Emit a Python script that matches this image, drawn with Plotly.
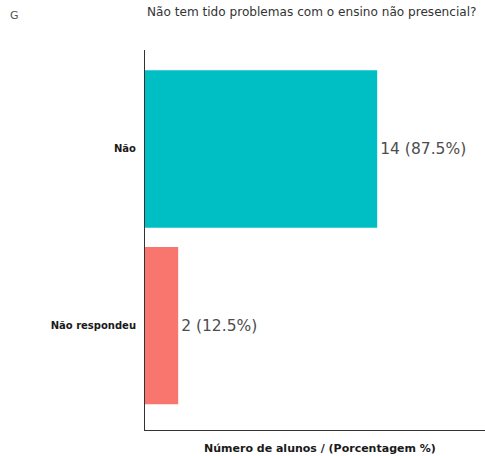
import plotly.graph_objects as go

# Survey answers (bottom to top)
categories = ["Não respondeu", "Não"]
counts = [2, 14]
percents = [12.5, 87.5]
colors = ["#F8766D", "#00BFC4"]

labels = [f"{c} ({p}%)" for c, p in zip(counts, percents)]

FONT = "DejaVu Sans, Arial, sans-serif"

fig = go.Figure(
    go.Bar(
        x=counts,
        y=categories,
        orientation="h",
        marker=dict(color=colors, line=dict(width=0)),
        width=0.89,
        text=labels,
        textposition="outside",
        textfont=dict(family=FONT, size=15.5, color="#4d4d4d"),
        cliponaxis=False,
        hoverinfo="skip",
    )
)

fig.update_layout(
    width=485,
    height=456,
    margin=dict(l=145, r=0, t=50, b=26),
    paper_bgcolor="white",
    plot_bgcolor="white",
    showlegend=False,
    font=dict(family=FONT),
    xaxis=dict(
        range=[0, 20.5],
        showgrid=False,
        zeroline=False,
        showticklabels=False,
        ticks="",
        showline=True,
        linecolor="#333333",
        linewidth=1,
        fixedrange=True,
    ),
    yaxis=dict(
        type="category",
        range=[-0.59, 1.56],
        showgrid=False,
        zeroline=False,
        ticks="",
        showline=True,
        linecolor="#333333",
        linewidth=1,
        tickfont=dict(size=10, color="#1a1a1a", family=FONT, weight="bold"),
        ticklabelstandoff=6,
        fixedrange=True,
    ),
    annotations=[
        dict(
            text="G", x=-137 / 340, y=1 + 34 / 380, xref="paper", yref="paper",
            showarrow=False, xanchor="left", yanchor="middle",
            font=dict(size=11, color="#555555"),
        ),
        dict(
            text="Não tem tido problemas com o ensino não presencial?",
            x=0, y=1, xref="paper", yref="paper", showarrow=False,
            xanchor="left", yanchor="bottom", yshift=29,
            font=dict(size=12.1, color="#333333"),
        ),
        dict(
            text="<b>Número de alunos / (Porcentagem %)</b>",
            x=0.515, y=0, xref="paper", yref="paper", showarrow=False,
            xanchor="center", yanchor="middle", yshift=-18,
            font=dict(size=11, color="#1a1a1a"),
        ),
    ],
)

fig.write_html("out.html")
